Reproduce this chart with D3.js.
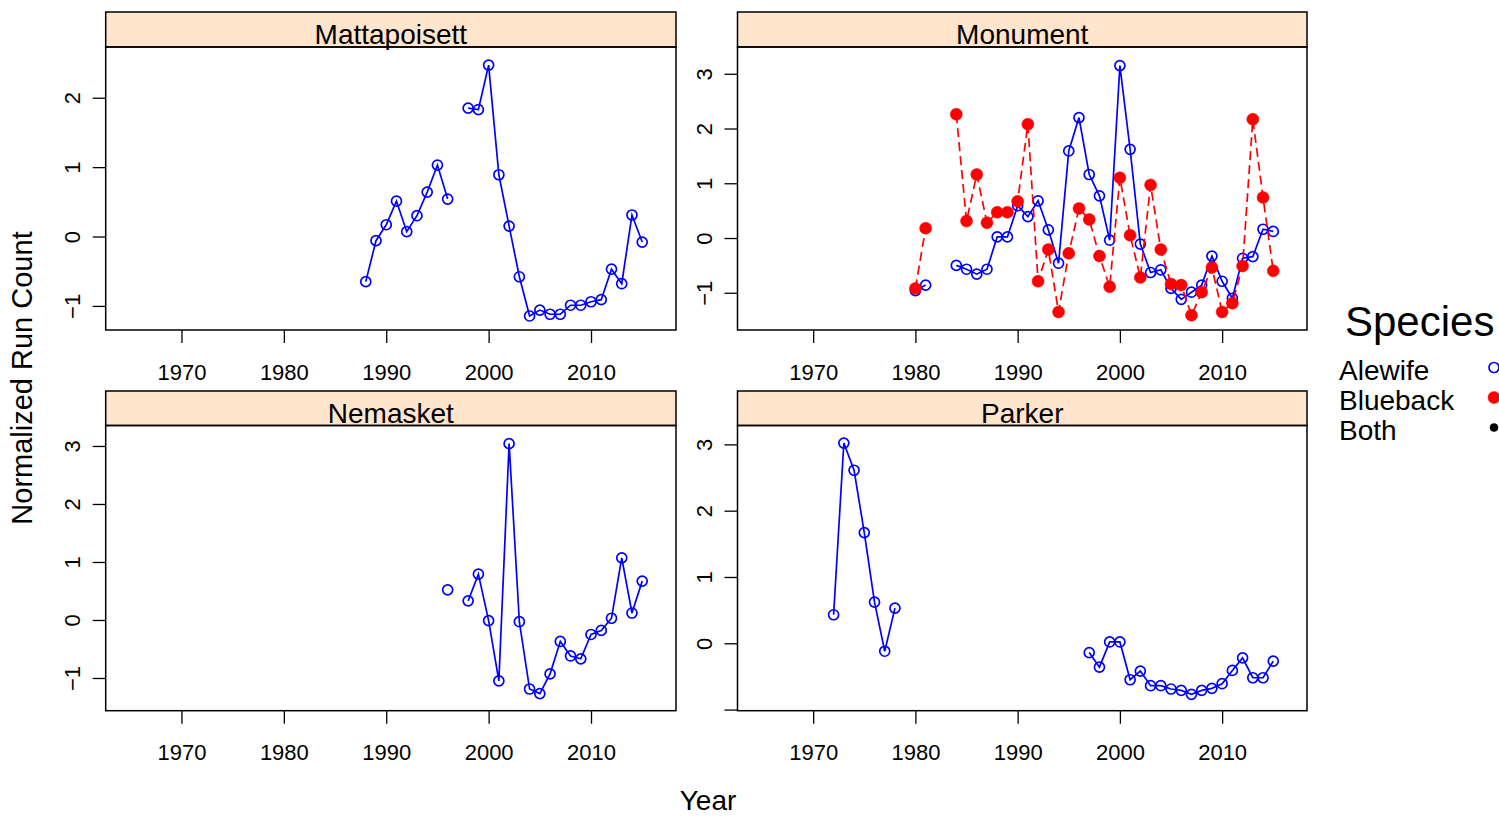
<!DOCTYPE html>
<html>
<head>
<meta charset="utf-8">
<script src="https://cdn.jsdelivr.net/npm/d3@7"></script>
<style>
  html, body { margin: 0; padding: 0; background: #fff; }
  svg { display: block; font-family: "Liberation Sans", Arial, sans-serif; }
</style>
</head>
<body>
<svg id="chart" width="1499" height="816"></svg>
<script>
// ---------------- DATA ----------------
const sites = ["Mattapoisett", "Monument", "Nemasket", "Parker"];
const xTicks = [1970, 1980, 1990, 2000, 2010];
const xDomain = [1962.6, 2018.3];

// y-axis limits per panel (as in the original figure)
const yDomains = {
  Mattapoisett: [-1.347, 2.731],
  Monument: [-1.68, 3.489],
  Nemasket: [-1.564, 3.353],
  Parker: [-1.017, 3.285]
};
const yTicks = {
  Mattapoisett: [-1, 0, 1, 2],
  Monument: [-1, 0, 1, 2, 3],
  Nemasket: [-1, 0, 1, 2, 3],
  Parker: [-1, 0, 1, 2, 3]
};
// Parker's -1 tick has no label in the original
const yTickLabelled = { Parker: [0, 1, 2, 3] };

const mattapoisettStart = 1988;
const mattapoisettAlewife = [-0.65, -0.06, 0.17, 0.51, 0.07, 0.30, 0.64, 1.03, 0.54, null,
  1.85, 1.83, 2.47, 0.89, 0.15, -0.58, -1.145, -1.06, -1.12, -1.12,
  -0.99, -0.99, -0.94, -0.91, -0.47, -0.68, 0.31, -0.08];

const monumentStart = 1980;
const monumentAlewife = [-0.96, -0.86, null, null, -0.50, -0.57, -0.66, -0.57, 0.02, 0.02,
  0.59, 0.39, 0.68, 0.15, -0.46, 1.59, 2.20, 1.16, 0.77, -0.04,
  3.15, 1.62, -0.11, -0.63, -0.58, -0.92, -1.12, -0.99, -0.86, -0.33,
  -0.79, -1.10, -0.37, -0.34, 0.16, 0.12];
const monumentBlueback = [-0.92, 0.18, null, null, 2.26, 0.31, 1.16, 0.28, 0.47, 0.47,
  0.67, 2.08, -0.79, -0.21, -1.35, -0.28, 0.54, 0.34, -0.33, -0.89,
  1.10, 0.05, -0.72, 0.97, -0.21, -0.84, -0.86, -1.41, -0.99, -0.54,
  -1.35, -1.19, -0.51, 2.17, 0.74, -0.60];

const nemasketStart = 1996;
const nemasketAlewife = [0.52, null, 0.33, 0.79, -0.01, -1.05, 3.04, -0.03, -1.19, -1.27,
  -0.93, -0.37, -0.62, -0.67, -0.25, -0.18, 0.03, 1.07, 0.12, 0.67];

const parkerStart = 1972;
const parkerAlewife = [0.43, 3.02, 2.61, 1.67, 0.62, -0.12, 0.53,
  null, null, null, null, null, null, null, null, null,
  null, null, null, null, null, null, null, null, null,
  -0.14, -0.36, 0.02, 0.02, -0.55, -0.42, -0.64, -0.64, -0.69, -0.71,
  -0.77, -0.71, -0.68, -0.61, -0.41, -0.22, -0.52, -0.52, -0.27];

const legendLabels = ["Alewife", "Blueback", "Both"];

// ---------------- HELPERS ----------------
function toSeries(start, values) {
  return values.map((v, i) => ({ year: start + i, value: v }));
}

const seriesBySite = {
  Mattapoisett: [{ species: "Alewife", data: toSeries(mattapoisettStart, mattapoisettAlewife) }],
  Monument: [
    { species: "Alewife", data: toSeries(monumentStart, monumentAlewife) },
    { species: "Blueback", data: toSeries(monumentStart, monumentBlueback) }
  ],
  Nemasket: [{ species: "Alewife", data: toSeries(nemasketStart, nemasketAlewife) }],
  Parker: [{ species: "Alewife", data: toSeries(parkerStart, parkerAlewife) }]
};

const styles = {
  Alewife: { color: "#0000FF", dash: null, r: 5, filled: false },
  Blueback: { color: "#FF0000", dash: "9,5", r: 6, filled: true },
  Both: { color: "#000000", dash: null, r: 4, filled: true }
};

// ---------------- LAYOUT ----------------
const colX = [[105.7, 676], [737.5, 1307]];
const rowY = [ { stripTop: 12, top: 47, bottom: 330 }, { stripTop: 391, top: 425.5, bottom: 710.7 } ];

const svg = d3.select("#chart");

sites.forEach((site, idx) => {
  const col = idx % 2, row = Math.floor(idx / 2);
  const [x0, x1] = colX[col];
  const { stripTop, top, bottom } = rowY[row];

  const x = d3.scaleLinear().domain(xDomain).range([x0, x1]);
  const y = d3.scaleLinear().domain(yDomains[site]).range([bottom, top]);

  const g = svg.append("g");

  // strip
  g.append("rect")
    .attr("x", x0).attr("y", stripTop)
    .attr("width", x1 - x0).attr("height", top - stripTop)
    .attr("fill", "#FFE5CC").attr("stroke", "#000").attr("stroke-width", 1.5);
  g.append("text")
    .attr("x", (x0 + x1) / 2).attr("y", top - 3)
    .attr("text-anchor", "middle")
    .attr("font-size", 28)
    .text(site);

  // x axis (ticks below panel)
  const xAxis = d3.axisBottom(x).tickValues(xTicks).tickSize(13).tickPadding(21)
    .tickFormat(d3.format("d"));
  const gx = g.append("g").attr("transform", `translate(0,${bottom})`).call(xAxis);
  gx.select(".domain").remove();
  gx.selectAll(".tick line").attr("stroke", "#000").attr("stroke-width", 1.3);
  gx.selectAll(".tick text").attr("font-size", 22).attr("fill", "#000")
    .attr("font-family", "'Liberation Sans', Arial, sans-serif");

  // y axis (ticks left, rotated labels)
  const yAxis = d3.axisLeft(y).tickValues(yTicks[site]).tickSize(13).tickFormat(d3.format("d"));
  const gy = g.append("g").attr("transform", `translate(${x0},0)`).call(yAxis);
  gy.select(".domain").remove();
  gy.selectAll(".tick line").attr("stroke", "#000").attr("stroke-width", 1.3);
  const labelled = yTickLabelled[site];
  gy.selectAll(".tick text")
    .attr("font-size", 22).attr("fill", "#000")
    .attr("font-family", "'Liberation Sans', Arial, sans-serif")
    .attr("text-anchor", "middle")
    .attr("x", null).attr("dy", "0.35em")
    .attr("transform", "translate(-33,0) rotate(-90)")
    .style("display", d => (labelled && !labelled.includes(d)) ? "none" : null);

  // clip
  const clipId = "clip" + idx;
  svg.append("clipPath").attr("id", clipId).append("rect")
    .attr("x", x0).attr("y", top).attr("width", x1 - x0).attr("height", bottom - top);

  const plot = g.append("g").attr("clip-path", `url(#${clipId})`);

  const line = d3.line()
    .defined(d => d.value !== null)
    .x(d => x(d.year)).y(d => y(d.value));

  seriesBySite[site].forEach(s => {
    const st = styles[s.species];
    plot.append("path")
      .datum(s.data)
      .attr("d", line)
      .attr("fill", "none")
      .attr("stroke", st.color)
      .attr("stroke-width", 1.7)
      .attr("stroke-dasharray", st.dash);
    plot.selectAll(null)
      .data(s.data.filter(d => d.value !== null))
      .join("circle")
      .attr("cx", d => x(d.year)).attr("cy", d => y(d.value))
      .attr("r", st.r)
      .attr("fill", st.filled ? st.color : "none")
      .attr("stroke", st.color)
      .attr("stroke-width", st.filled ? 0.5 : 1.7);
  });

  // panel border
  g.append("rect")
    .attr("x", x0).attr("y", top)
    .attr("width", x1 - x0).attr("height", bottom - top)
    .attr("fill", "none").attr("stroke", "#000").attr("stroke-width", 1.5);
});

// axis titles
svg.append("text")
  .attr("transform", "translate(22,378) rotate(-90)")
  .attr("text-anchor", "middle").attr("dy", "0.35em")
  .attr("font-size", 29)
  .text("Normalized Run Count");
svg.append("text")
  .attr("x", 708).attr("y", 810)
  .attr("text-anchor", "middle")
  .attr("font-size", 28)
  .text("Year");

// legend
const leg = svg.append("g");
leg.append("text").attr("x", 1345).attr("y", 336).attr("font-size", 42).text("Species");
legendLabels.forEach((lab, i) => {
  const yy = 380 + i * 30;
  leg.append("text").attr("x", 1339).attr("y", yy).attr("font-size", 28).text(lab);
  const st = styles[lab];
  leg.append("circle")
    .attr("cx", 1494).attr("cy", yy - 12.5)
    .attr("r", st.r)
    .attr("fill", st.filled ? st.color : "none")
    .attr("stroke", st.color)
    .attr("stroke-width", st.filled ? 0.5 : 1.7);
});
</script>
</body>
</html>
